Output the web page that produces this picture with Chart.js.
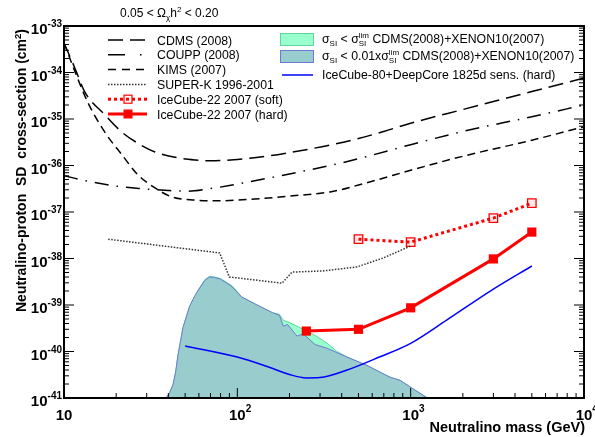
<!DOCTYPE html>
<html>
<head>
<meta charset="utf-8">
<script src="https://cdn.jsdelivr.net/npm/chart.js@4.4.1/dist/chart.umd.min.js"></script>
<style>
  html, body { margin: 0; padding: 0; background: #fff; }
  #wrap { position: relative; width: 595px; height: 437px; }
</style>
</head>
<body>
<div id="wrap"><canvas id="c"></canvas></div>
<script>
// neutralino mass (GeV) and SD cross-section (cm^2)
const cdmsMass   = [10, 11.5, 13.2, 17.2, 21.6, 26.7, 33.5, 43.7, 57, 70, 100, 150, 200, 343, 500, 700, 1000, 2000, 5000, 10000];
const cdmsSigma  = [4.3e-34, 1.3e-34, 3.8e-35, 1.23e-35, 5.2e-36, 3.0e-36, 1.95e-36, 1.5e-36, 1.32e-36, 1.26e-36, 1.35e-36, 1.6e-36, 1.9e-36, 2.75e-36, 3.8e-36, 5.4e-36, 8.1e-36, 1.6e-35, 3.9e-35, 7.6e-35];

const couppMass  = [10, 15, 20, 27, 40, 52, 70, 90, 126, 200, 343, 500, 1000, 2000, 5000, 10000];
const couppSigma = [6.0e-37, 4.3e-37, 3.6e-37, 3.2e-37, 2.9e-37, 2.8e-37, 3.2e-37, 3.7e-37, 4.7e-37, 6.6e-37, 1.0e-36, 1.4e-36, 2.8e-36, 5.4e-36, 1.12e-35, 2.0e-35];

const kimsMass   = [10, 11.6, 13.7, 17.2, 21.6, 26.7, 33.5, 42, 57, 75, 126, 200, 343, 500, 700, 1000, 2000, 5000, 10000];
const kimsSigma  = [4.3e-34, 1.02e-34, 2.3e-35, 5.2e-36, 1.7e-36, 6.3e-37, 3.3e-37, 2.1e-37, 1.8e-37, 1.74e-37, 1.9e-37, 2.2e-37, 2.7e-37, 3.8e-37, 5.4e-37, 7.9e-37, 1.58e-36, 3.5e-36, 6.8e-36];

const superkMass  = [18, 40, 79, 90, 181, 207, 312, 490, 692, 1000];
const superkSigma = [2.6e-38, 1.8e-38, 1.32e-38, 4.0e-39, 2.95e-39, 5.1e-39, 5.4e-39, 6.6e-39, 1.02e-38, 1.86e-38];

const softMass  = [500, 1000, 3000, 5000];
const softSigma = [2.6e-38, 2.25e-38, 7.4e-38, 1.55e-37];

const hardMass  = [250, 500, 1000, 3000, 5000];
const hardSigma = [2.75e-40, 3.0e-40, 8.7e-40, 9.8e-39, 3.7e-38];

const ic80Mass  = [50, 100, 150, 200, 250, 300, 430, 660, 1000, 1620, 3000, 5000];
const ic80Sigma = [1.32e-40, 7.6e-41, 4.7e-41, 3.2e-41, 2.7e-41, 2.75e-41, 4.0e-41, 7.6e-41, 1.5e-40, 4.8e-40, 2.2e-39, 6.9e-39];

// upper edge of the scanned model regions
const limMass    = [38.8, 40.5, 42.5, 44, 45.5, 48.6, 53, 57, 60.8, 65, 69, 74, 80, 93, 106, 130, 160, 175, 184, 200, 221, 250, 288, 330, 376, 430, 560, 760, 870, 1030, 1250];
const limSigma   = [1e-41, 1.25e-41, 1.9e-41, 3.5e-41, 8.5e-41, 3.3e-40, 9.3e-40, 1.6e-39, 2.4e-39, 3.5e-39, 4.1e-39, 4.0e-39, 3.7e-39, 2.6e-39, 1.5e-39, 1.0e-39, 6.8e-40, 6.3e-40, 4.7e-40, 4.2e-40, 3.5e-40, 2.8e-40, 2.1e-40, 1.5e-40, 1.0e-40, 7.6e-41, 5.0e-41, 2.8e-41, 2.4e-41, 1.58e-41, 1e-41];
const lim01Mass  = [38.8, 40.5, 42.5, 44, 45.5, 48.6, 53, 57, 60.8, 65, 69, 74, 80, 93, 106, 130, 160, 175, 184, 195, 221, 240, 281, 330, 406, 560, 760, 870, 1030, 1250];
const lim01Sigma = [1e-41, 1.25e-41, 1.9e-41, 3.5e-41, 8.5e-41, 3.3e-40, 9.3e-40, 1.6e-39, 2.35e-39, 3.4e-39, 4.0e-39, 3.9e-39, 3.6e-39, 2.5e-39, 1.48e-39, 1.0e-39, 6.8e-40, 6.0e-40, 3.5e-40, 3.8e-40, 2.14e-40, 2.4e-40, 1.41e-40, 1.17e-40, 8.3e-41, 5.0e-41, 2.8e-41, 2.4e-41, 1.58e-41, 1e-41];

const xDecades = [10, 100, 1000, 10000];
const xTickExp = ['', '2', '3', '4'];
const yExps    = [-33, -34, -35, -36, -37, -38, -39, -40, -41];

const FONT = '"Liberation Sans", Arial, sans-serif';
const GREEN = '#99ffcc', GREEN_EDGE = '#5fd79c';
const TEAL = '#99cccc', TEAL_EDGE = '#6a7bd4';
const COUPP_DASH = [14, 8, 1.5, 8];

function pts(xs, ys) { return xs.map((x, i) => ({ x, y: ys[i] })); }

function line(label, xs, ys, extra) {
  return Object.assign({
    label, data: pts(xs, ys), borderColor: '#000', borderWidth: 1.5,
    pointRadius: 0, fill: false, order: 0, borderCapStyle: 'butt',
  }, extra);
}

// draws a run of text pieces (for sub/superscripts), returns end x
function runs(ctx, x, y, parts) {
  for (const p of parts) {
    ctx.font = `${p.b ? 'bold ' : ''}${p.s}px ${FONT}`;
    ctx.fillText(p.t, x, y + (p.dy || 0));
    if (!p.stay) x += ctx.measureText(p.t).width;
  }
  return x;
}

const decor = {
  id: 'decor',
  afterDraw(chart) {
    const { ctx, chartArea: a, scales: { x, y } } = chart;
    ctx.save();

    // frame + inward ticks
    ctx.strokeStyle = '#000';
    ctx.lineWidth = 2;
    ctx.strokeRect(a.left, a.top, a.right - a.left, a.bottom - a.top);
    ctx.lineWidth = 1;
    ctx.beginPath();
    for (let i = 0; i < xDecades.length - 1; i++) {
      for (let k = 1; k < 10; k++) {
        const px = x.getPixelForValue(k * xDecades[i]);
        const len = k === 1 ? 10 : 5;
        ctx.moveTo(px, a.bottom); ctx.lineTo(px, a.bottom - len);
      }
    }
    for (let e = -41; e < -33; e++) {
      for (let k = 1; k < 10; k++) {
        const py = y.getPixelForValue(k * Math.pow(10, e));
        const len = k === 1 ? 10 : 5;
        ctx.moveTo(a.left, py); ctx.lineTo(a.left + len, py);
        ctx.moveTo(a.right, py); ctx.lineTo(a.right - len, py);
      }
    }
    ctx.stroke();

    // tick labels
    ctx.fillStyle = '#000';
    ctx.textBaseline = 'alphabetic';
    ctx.textAlign = 'left';
    xDecades.forEach((v, i) => {
      const px = x.getPixelForValue(v);
      ctx.font = `bold 15px ${FONT}`;
      const w = ctx.measureText('10').width;
      ctx.fillText('10', px - w / 2, a.bottom + 22);
      if (xTickExp[i]) {
        ctx.font = `bold 10px ${FONT}`;
        ctx.fillText(xTickExp[i], px + w / 2, a.bottom + 14);
      }
    });
    ctx.textAlign = 'right';
    yExps.forEach(e => {
      const py = y.getPixelForValue(Math.pow(10, e));
      ctx.font = `bold 10px ${FONT}`;
      const sup = String(e);
      const ws = ctx.measureText(sup).width;
      ctx.fillText(sup, a.left - 2, py + 1);
      ctx.font = `bold 15px ${FONT}`;
      ctx.fillText('10', a.left - 2 - ws, py + 8);
    });

    // axis titles
    ctx.textAlign = 'right';
    ctx.font = `bold 14.5px ${FONT}`;
    ctx.fillText('Neutralino mass (GeV)', 585, 432);
    ctx.save();
    ctx.translate(26, 312);
    ctx.rotate(-Math.PI / 2);
    ctx.textAlign = 'left';
    let ex = runs(ctx, 0, 0, [{ t: 'Neutralino-proton  SD  cross-section (cm', s: 14, b: true }]);
    ex = runs(ctx, ex, 0, [{ t: '2', s: 9.5, b: true, dy: -5 }]);
    runs(ctx, ex, 0, [{ t: ')', s: 14, b: true }]);
    ctx.restore();

    // title
    ctx.textAlign = 'left';
    runs(ctx, 120, 17, [
      { t: '0.05 < \u03A9', s: 12 }, { t: '\u03C7', s: 8, dy: 3 },
      { t: 'h', s: 12 }, { t: '2', s: 8, dy: -5 }, { t: ' < 0.20', s: 12 },
    ]);

    // left legend
    const rows = [
      { t: 'CDMS (2008)', dash: [15, 7] },
      { t: 'COUPP (2008)', dash: [17, 15, 1.5, 15] },
      { t: 'KIMS (2007)', dash: [8, 6] },
      { t: 'SUPER-K 1996-2001', dash: [1.5, 1.5], color: '#333' },
      { t: 'IceCube-22 2007 (soft)', dash: [3, 3], color: '#f00', w: 3, mk: 'open' },
      { t: 'IceCube-22 2007 (hard)', dash: [], color: '#f00', w: 3, mk: 'fill' },
    ];
    rows.forEach((r, i) => {
      const ly = 40 + i * 14.8;
      ctx.strokeStyle = r.color || '#000';
      ctx.lineWidth = r.w || 1.5;
      ctx.setLineDash(r.dash);
      ctx.beginPath(); ctx.moveTo(108, ly); ctx.lineTo(147, ly); ctx.stroke();
      ctx.setLineDash([]);
      if (r.mk === 'open') {
        ctx.lineWidth = 1.2;
        ctx.strokeRect(124, ly - 4, 8, 8);
      } else if (r.mk === 'fill') {
        ctx.fillStyle = '#f00';
        ctx.fillRect(123.5, ly - 4.5, 9, 9);
      }
      ctx.fillStyle = '#000';
      ctx.font = `12.3px ${FONT}`;
      ctx.fillText(r.t, 157, ly + 4.5);
    });

    // right legend
    ctx.lineWidth = 1;
    ctx.fillStyle = GREEN; ctx.fillRect(280, 33, 33, 12);
    ctx.strokeStyle = GREEN_EDGE; ctx.strokeRect(280.5, 33.5, 33, 12);
    ctx.fillStyle = TEAL; ctx.fillRect(280, 50, 33, 12);
    ctx.strokeStyle = TEAL_EDGE; ctx.strokeRect(280.5, 50.5, 33, 12);
    ctx.strokeStyle = '#0000ff'; ctx.lineWidth = 1.5;
    ctx.beginPath(); ctx.moveTo(282, 75); ctx.lineTo(313, 75); ctx.stroke();

    ctx.fillStyle = '#000';
    const sig = [{ t: '\u03C3', s: 12.3 }, { t: 'SI', s: 8, dy: 3 }];
    const limSI = [{ t: 'SI', s: 8, dy: 3, stay: true }, { t: 'lim', s: 8, dy: -5 }];
    runs(ctx, 322, 43, [...sig, { t: ' < \u03C3', s: 12.3 }, ...limSI,
      { t: ' CDMS(2008)+XENON10(2007)', s: 12.3 }]);
    runs(ctx, 322, 60, [...sig, { t: ' < 0.01x\u03C3', s: 12.3 }, ...limSI,
      { t: ' CDMS(2008)+XENON10(2007)', s: 12.3 }]);
    runs(ctx, 322, 79, [{ t: 'IceCube-80+DeepCore 1825d sens. (hard)', s: 12.3 }]);

    ctx.restore();
  }
};

new Chart(document.getElementById('c'), {
  type: 'line',
  data: {
    datasets: [
      line('CDMS (2008)', cdmsMass, cdmsSigma, { borderDash: [15, 7], cubicInterpolationMode: 'monotone' }),
      line('COUPP (2008)', couppMass, couppSigma, { borderDash: COUPP_DASH, cubicInterpolationMode: 'monotone' }),
      line('KIMS (2007)', kimsMass, kimsSigma, { borderDash: [8, 5], cubicInterpolationMode: 'monotone' }),
      line('SUPER-K 1996-2001', superkMass, superkSigma, { borderDash: [1.5, 1.5], borderColor: '#333' }),
      line('IceCube-22 2007 (soft)', softMass, softSigma, {
        borderColor: '#f00', borderWidth: 3, borderDash: [3, 3],
        pointRadius: 6, pointStyle: 'rect', pointBorderWidth: 1.3,
        pointBorderColor: '#f00', pointBackgroundColor: 'rgba(255,0,0,0.08)',
      }),
      line('IceCube-22 2007 (hard)', hardMass, hardSigma, {
        borderColor: '#f00', borderWidth: 3,
        pointRadius: 6.5, pointStyle: 'rect', pointBorderWidth: 0,
        pointBackgroundColor: '#f00',
      }),
      line('IceCube-80+DeepCore 1825d sens. (hard)', ic80Mass, ic80Sigma, {
        borderColor: '#0000ff', borderWidth: 1.5, cubicInterpolationMode: 'monotone',
      }),
      line('0.01 x lim', lim01Mass, lim01Sigma, {
        borderColor: TEAL_EDGE, borderWidth: 1, backgroundColor: TEAL, fill: 'start', order: 5,
      }),
      line('lim', limMass, limSigma, {
        borderColor: GREEN_EDGE, borderWidth: 1, backgroundColor: GREEN, fill: 'start', order: 6,
      }),
    ],
  },
  options: {
    responsive: true,
    maintainAspectRatio: false,
    animation: false,
    layout: { padding: { left: 64, right: 11, top: 26, bottom: 39 } },
    plugins: { legend: { display: false }, tooltip: { enabled: false } },
    scales: {
      x: { type: 'logarithmic', min: 10, max: 10000, display: false },
      y: { type: 'logarithmic', min: 1e-41, max: 1e-33, display: false },
    },
  },
  plugins: [decor],
});
</script>
</body>
</html>
